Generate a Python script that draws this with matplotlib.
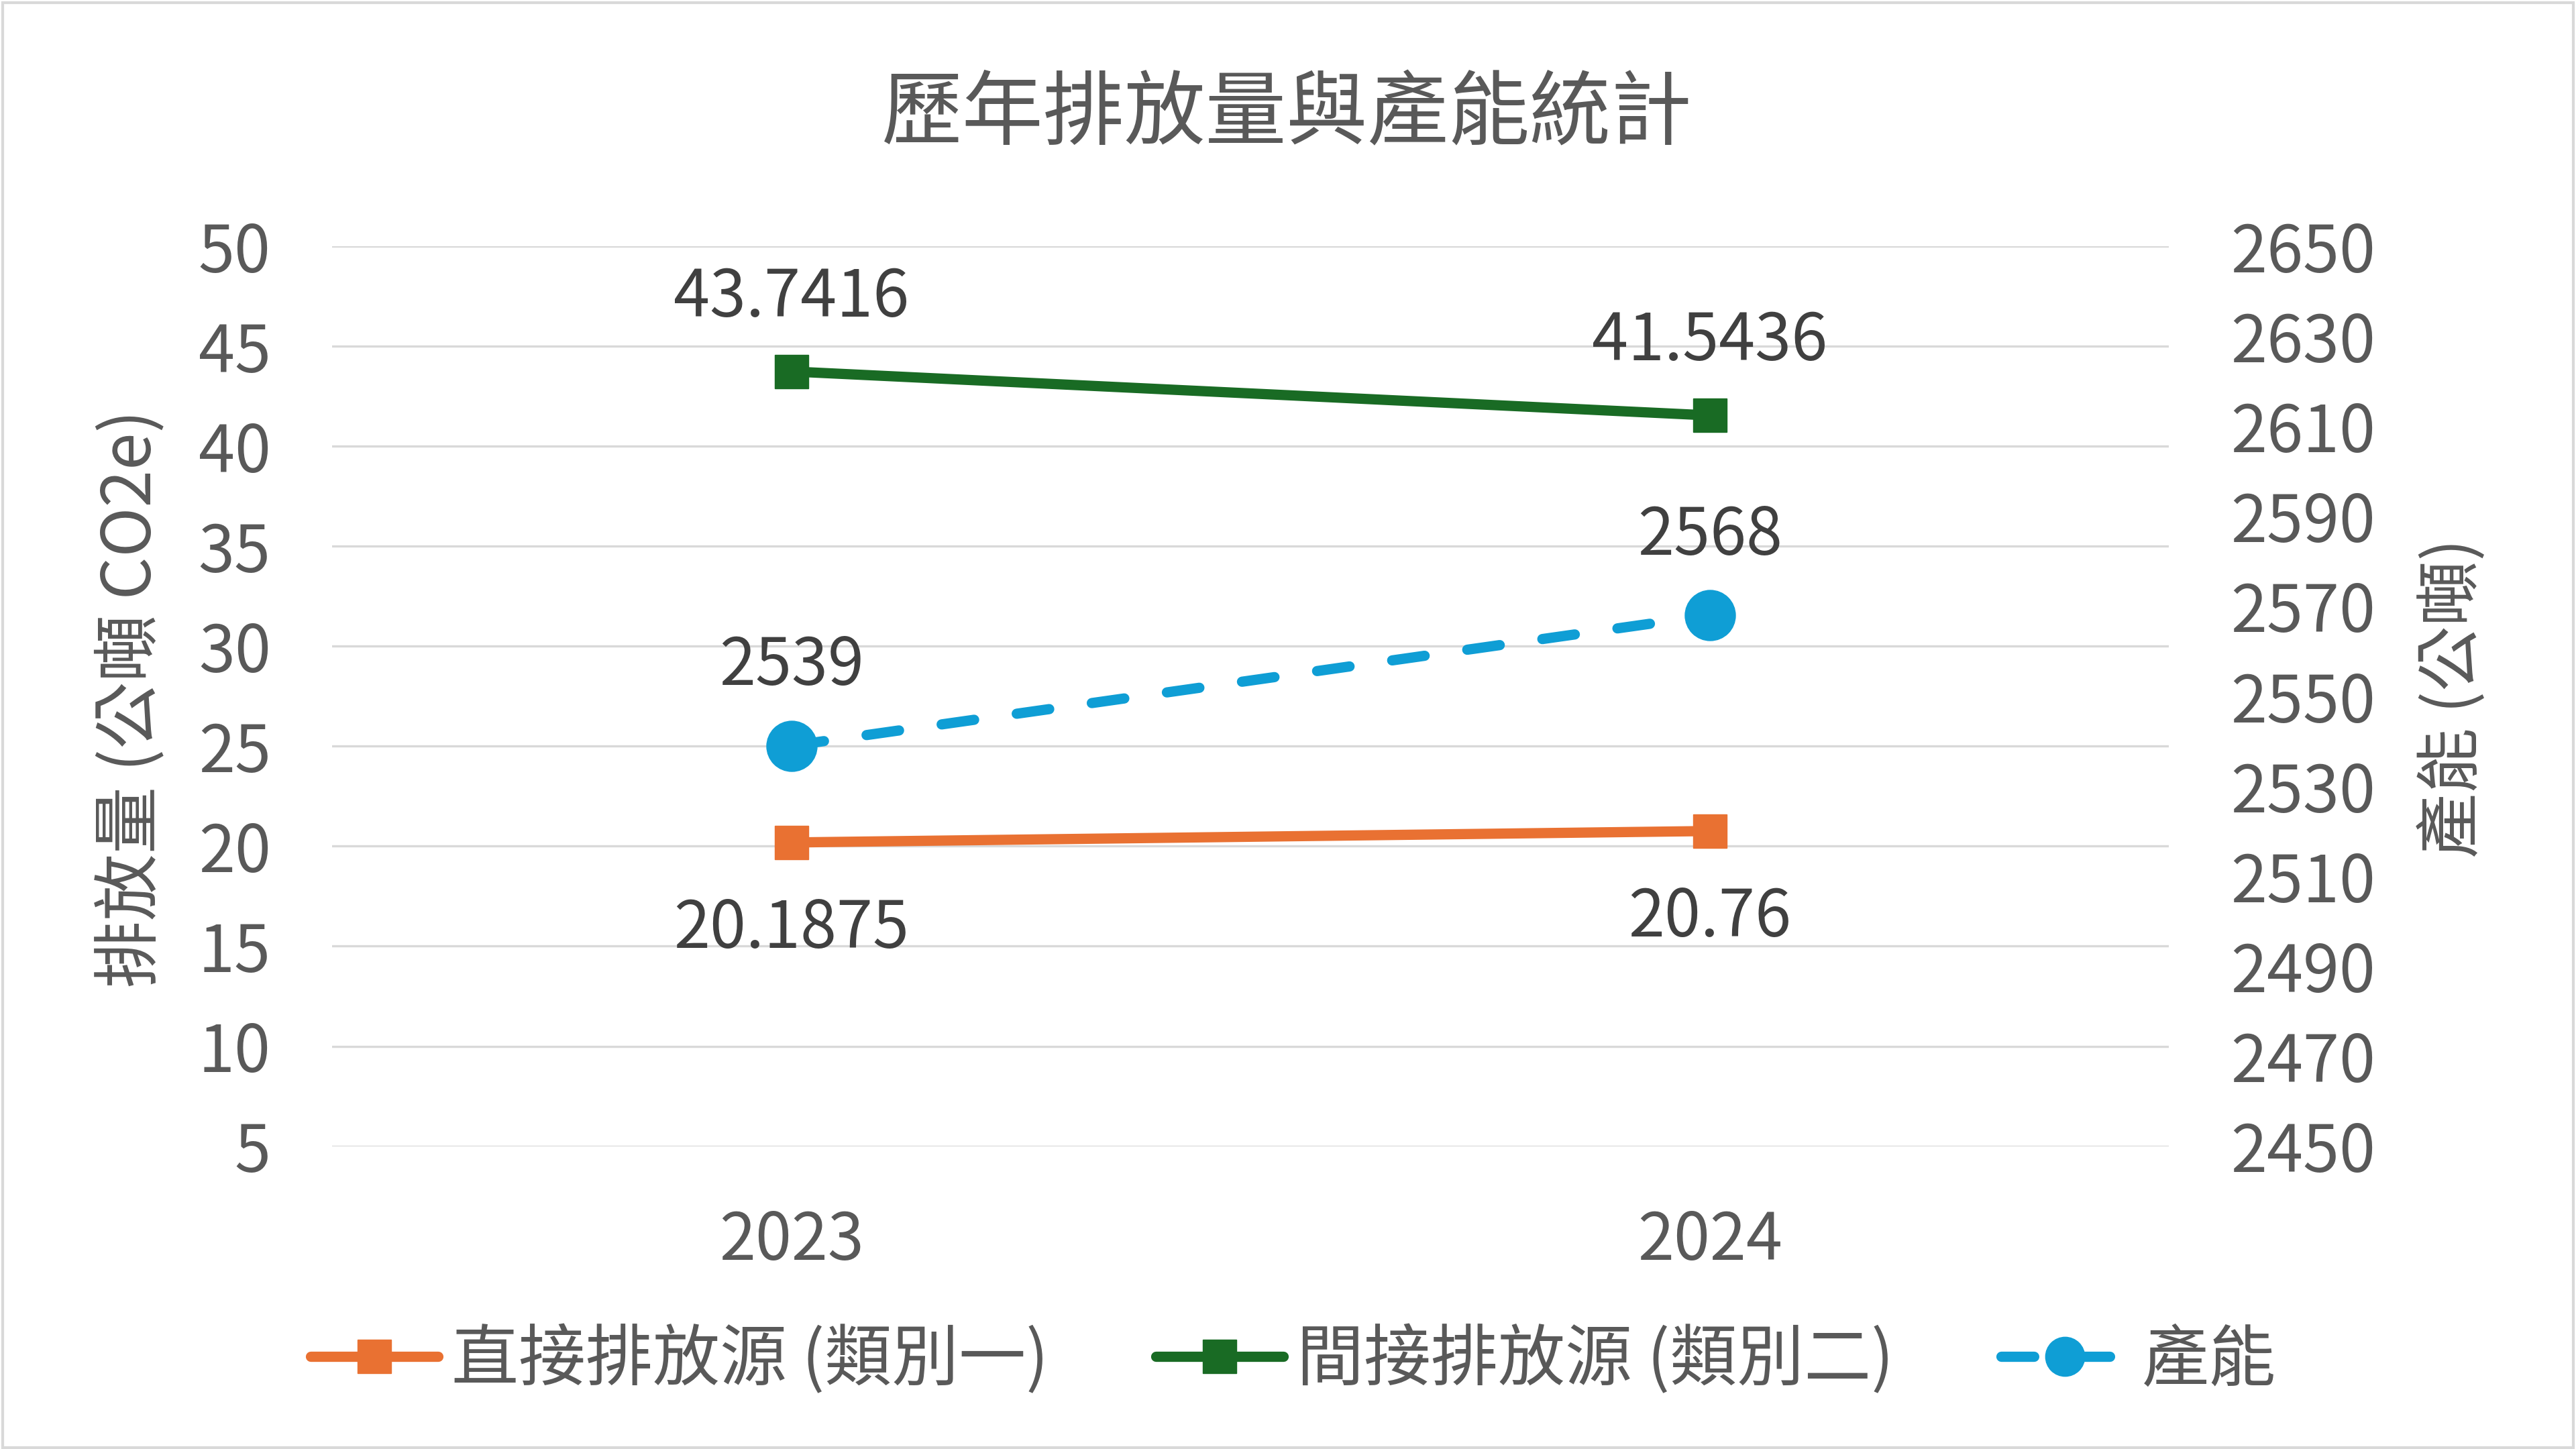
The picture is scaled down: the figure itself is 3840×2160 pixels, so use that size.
import matplotlib
matplotlib.use('Agg')
import matplotlib.pyplot as plt
from matplotlib.patches import Rectangle

plt.rcParams['font.family'] = ['Noto Sans CJK TC', 'DejaVu Sans']

# 資料
years = ['2023', '2024']
direct = [20.1875, 20.76]        # 直接排放源 (類別一)
indirect = [43.7416, 41.5436]    # 間接排放源 (類別二)
capacity = [2539, 2568]          # 產能

left_ticks = list(range(5, 51, 5))
right_ticks = list(range(2450, 2651, 20))

c_orange = '#E97132'
c_green = '#196B24'
c_blue = '#0F9ED5'
c_text = '#595959'
c_label = '#404040'
c_grid = '#D9D9D9'

fig = plt.figure(figsize=(38.4, 21.6), dpi=100)
ax = fig.add_axes([0.129, 0.209, 0.713, 0.621])
ax2 = ax.twinx()

x = list(range(len(years)))

l1, = ax.plot(x, direct, color=c_orange, lw=11, marker='s', markersize=36,
              solid_capstyle='round', label='直接排放源 (類別一)')
l2, = ax.plot(x, indirect, color=c_green, lw=11, marker='s', markersize=36,
              solid_capstyle='round', label='間接排放源 (類別二)')
l3, = ax2.plot(x, capacity, color=c_blue, lw=11, marker='o', markersize=54,
               linestyle=(0, (3.2, 4.2)), dash_capstyle='round', label='產能')

# 數據標籤
for i, v in enumerate(direct):
    ax.annotate(f'{v:g}', (i, v), xytext=(0, -93), textcoords='offset points',
                ha='center', va='center', fontsize=70, color=c_label)
for i, v in enumerate(indirect):
    ax.annotate(f'{v:g}', (i, v), xytext=(0, 79), textcoords='offset points',
                ha='center', va='center', fontsize=70, color=c_label)
for i, v in enumerate(capacity):
    ax2.annotate(f'{v:g}', (i, v), xytext=(0, 85), textcoords='offset points',
                 ha='center', va='center', fontsize=70, color=c_label)

ax.set_xlim(-0.5, 1.5)
ax.set_xticks(x)
ax.set_xticklabels(years)
ax.set_ylim(5, 50)
ax.set_yticks(left_ticks)
ax2.set_ylim(2450, 2650)
ax2.set_yticks(right_ticks)

ax.yaxis.grid(True, color=c_grid, lw=2.4)
ax.set_axisbelow(True)
for a in (ax, ax2):
    for s in a.spines.values():
        s.set_visible(False)
ax.tick_params(axis='both', length=0, labelsize=70, labelcolor=c_text)
ax.tick_params(axis='y', pad=66)
ax.tick_params(axis='x', pad=66)
ax2.tick_params(axis='y', length=0, labelsize=70, labelcolor=c_text, pad=66)

fig.text(0.4995, 0.920, '歷年排放量與產能統計', ha='center', va='center',
         fontsize=87, color=c_text)
fig.text(0.051, 0.518, '排放量 (公噸 CO2e)', rotation=90, ha='center', va='center',
         fontsize=72, color=c_text)
fig.text(0.952, 0.518, '產能 (公噸)', rotation=90, ha='center', va='center',
         fontsize=70, color=c_text)

leg = fig.legend(handles=[l1, l2, l3], loc='center', bbox_to_anchor=(0.502, 0.061),
                 ncol=3, frameon=False, fontsize=72, handlelength=1.9,
                 handletextpad=0.2, columnspacing=1.6, labelcolor=c_text)
leg.legend_handles[2].set_markersize(42)

fig.patches.append(Rectangle((0.001, 0.001), 0.998, 0.997, transform=fig.transFigure,
                             fill=False, edgecolor=c_grid, lw=3))

fig.savefig('out.png', dpi=100)
